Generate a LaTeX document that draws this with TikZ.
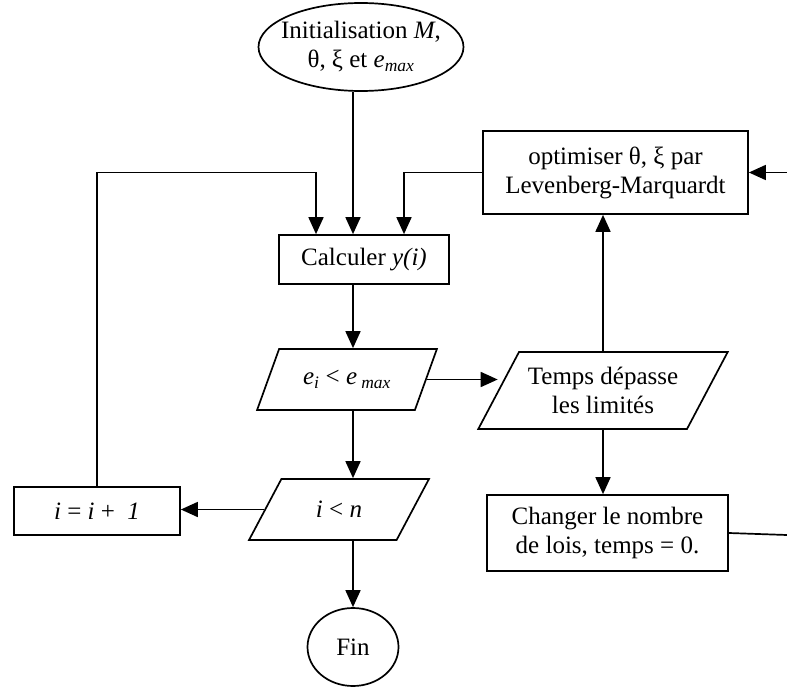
\documentclass[tikz,border=0pt]{standalone}
\usepackage{fontspec}
\setmainfont{Liberation Serif}
\usetikzlibrary{shapes.geometric,arrows.meta,calc}
\tikzset{
every node/.style={font=\fontsize{25}{29}\selectfont}, % Times-like text everywhere
box/.style={draw, line width=1.7pt, rectangle, align=center, inner sep=0pt},
oval/.style={draw, line width=1.7pt, ellipse, align=center, inner sep=-8pt},
slanted/.style={draw, line width=1.7pt, trapezium, trapezium left angle=52, trapezium right angle=128, trapezium stretches=true, align=center, inner sep=0pt},
flow/.style={line width=1.7pt, -{Triangle[length=17pt,width=15pt]}},
}

\begin{document}
\begin{tikzpicture}[x=1pt,y=1pt,yscale=-1,xscale=1]
\useasboundingbox (0,0) rectangle (787,687);
%Ellipses
\node[oval, minimum width=205pt, minimum height=88pt] (init) at (361,47) {Initialisation \textit{M},\\θ, ξ et \textit{e}\textsubscript{\textit{max}}};
\node[oval, minimum width=91pt, minimum height=78pt] (fin) at (353,647) {Fin};
%Boxes
\node[box, minimum width=170pt, minimum height=49pt] (calc) at (364,259.5) {Calculer \textit{y(i)}};
\node[box, minimum width=265pt, minimum height=83pt] (optim) at (615.5,172.5) {optimiser θ, ξ par\\Levenberg-Marquardt};
\node[box, minimum width=241pt, minimum height=76pt] (change) at (607.5,533) {Changer le nombre\\de lois, temps = 0.};
\node[box, minimum width=166pt, minimum height=48pt] (incr) at (97,511) {\textit{i} = \textit{i} +\ \ \textit{1}};
%Parallelograms
\node[slanted, minimum width=180pt, minimum height=61pt] (cond) at (347,379.5) {\textit{e}\textsubscript{\textit{i}} < \textit{e}\,\textsubscript{\textit{max}}};
\node[slanted, minimum width=250pt, minimum height=77pt] (temps) at (603,390.5) {Temps dépasse\\les limités};
\node[slanted, minimum width=180pt, minimum height=61pt] (test) at (339,509.5) {\textit{i} < \textit{n}};
%Loose ends at the right border
\coordinate (inOpt) at (787,172.5);
\coordinate (outChg) at (787,535);
\coordinate (inL) at ([xshift=-48pt]calc.north);
\coordinate (inR) at ([xshift=40pt]calc.north);
%Straight Lines
\draw[flow] (init.south -| fin) -- (calc.north -| fin);
\draw[flow] (incr.north) |- (inL |- optim.west) -- (inL);
\draw[flow] (optim.west) -| (inR);
\draw[flow] (calc.south -| fin) -- (cond.north -| fin);
\draw[flow] (cond.east) -- (cond.east -| temps.west);
\draw[flow] (cond.south -| fin) -- (test.north -| fin);
\draw[flow] (test.west) -- (test.west -| incr.east);
\draw[flow] (test.south -| fin) -- (fin.north);
\draw[flow] (temps.north) -- (temps.north |- optim.south);
\draw[flow] (temps.south) -- (temps.south |- change.north);
\draw[flow] (inOpt) -- (optim.east);
\draw[line width=1.7pt] (change.east) -- (outChg);
\end{tikzpicture}
\end{document}
